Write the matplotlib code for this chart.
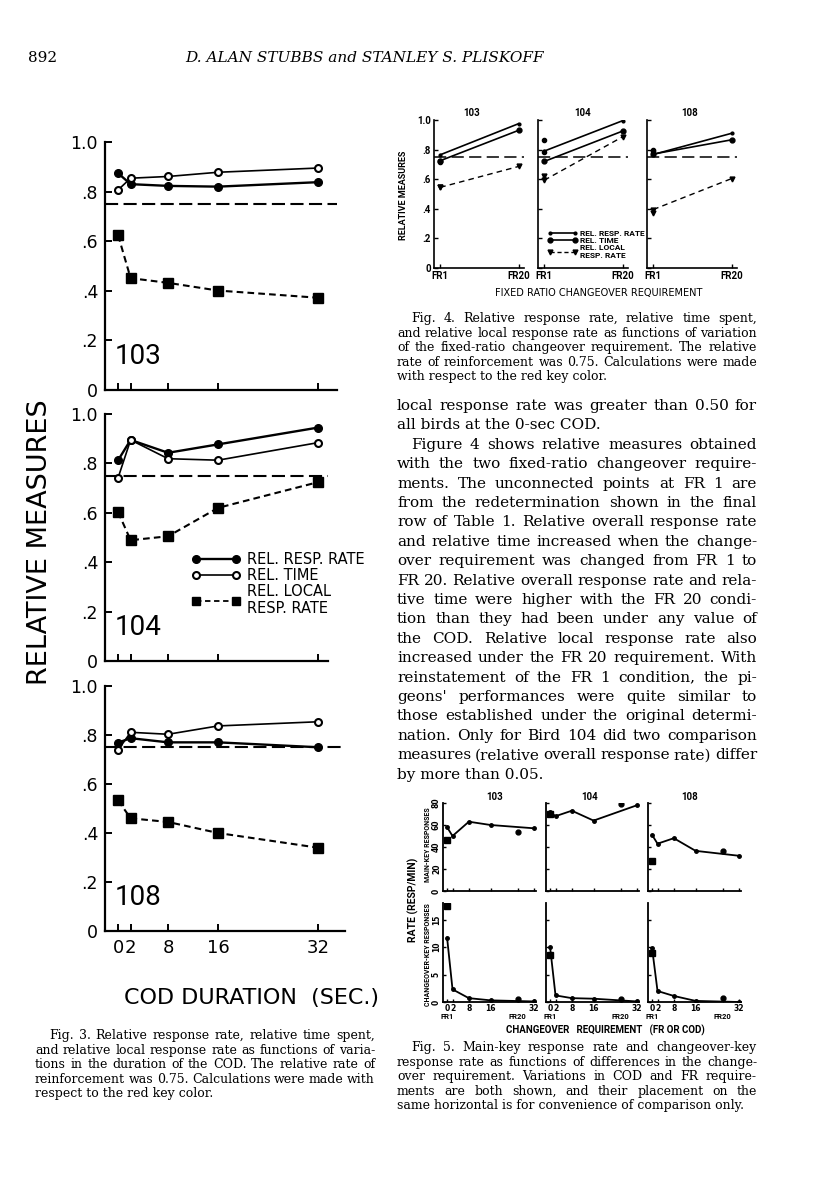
import matplotlib
matplotlib.use('Agg')
import matplotlib.pyplot as plt
from matplotlib.lines import Line2D
from matplotlib import font_manager

# ---- data ----
birds = ['103', '104', '108']
cod_sec = [0, 2, 8, 16, 32]
ref_rate = 0.75

# Fig. 3 : relative measures vs COD duration
f3_rate = [[0.874, 0.83, 0.823, 0.82, 0.838],
           [0.813, 0.895, 0.843, 0.877, 0.945],
           [0.769, 0.787, 0.77, 0.77, 0.75]]
f3_time = [[0.807, 0.854, 0.861, 0.878, 0.895],
           [0.742, 0.895, 0.819, 0.813, 0.884],
           [0.739, 0.811, 0.803, 0.837, 0.854]]
f3_local = [[0.624, 0.451, 0.432, 0.401, 0.372],
            [0.603, 0.489, 0.505, 0.62, 0.724],
            [0.533, 0.46, 0.445, 0.40, 0.34]]
f3_yticks = [0, 0.2, 0.4, 0.6, 0.8, 1.0]
f3_ylabels = ['0', '.2', '.4', '.6', '.8', '1.0']

# Fig. 4 : FR1 vs FR20
fr_pos = [0, 1]
fr_labels = ['FR1', 'FR20']
f4_rate = [[0.765, 0.975], [0.79, 0.995], [0.767, 0.91]]
f4_time = [[0.725, 0.93], [0.72, 0.925], [0.77, 0.866]]
f4_local = [[0.545, 0.686], [0.593, 0.886], [0.395, 0.604]]
f4_redo_rate = [0.715, 0.865, 0.80]
f4_redo_time = [0.72, 0.785, 0.79]
f4_redo_local = [0.55, 0.62, 0.375]

# Fig. 5 : response rates (resp/min)
f5_fr_x = [0, 26]
f5_main = [[58, 50, 63, 60, 57], [72, 68, 73, 64, 78], [51, 43, 48, 36.5, 32]]
f5_main_fr = [[46, 54], [70, 79], [27, 36]]
f5_co = [[11.7, 2.3, 0.7, 0.3, 0.1], [10, 1.2, 0.7, 0.6, 0.1], [9.8, 2.0, 1.1, 0.2, 0.0]]
f5_co_fr = [[17.5, 0.5], [8.5, 0.6], [9.0, 0.8]]

body = ["local response rate was greater than 0.50 for",
        "all birds at the 0-sec COD.",
        "Figure 4 shows relative measures obtained",
        "with the two fixed-ratio changeover require-",
        "ments. The unconnected points at FR 1 are",
        "from the redetermination shown in the final",
        "row of Table 1. Relative overall response rate",
        "and relative time increased when the change-",
        "over requirement was changed from FR 1 to",
        "FR 20. Relative overall response rate and rela-",
        "tive time were higher with the FR 20 condi-",
        "tion than they had been under any value of",
        "the COD. Relative local response rate also",
        "increased under the FR 20 requirement. With",
        "reinstatement of the FR 1 condition, the pi-",
        "geons' performances were quite similar to",
        "those established under the original determi-",
        "nation. Only for Bird 104 did two comparison",
        "measures (relative overall response rate) differ",
        "by more than 0.05."]
cap3 = ["Fig. 3. Relative response rate, relative time spent,",
        "and relative local response rate as functions of varia-",
        "tions in the duration of the COD. The relative rate of",
        "reinforcement was 0.75. Calculations were made with",
        "respect to the red key color."]
cap4 = ["Fig. 4. Relative response rate, relative time spent,",
        "and relative local response rate as functions of variation",
        "of the fixed-ratio changeover requirement. The relative",
        "rate of reinforcement was 0.75. Calculations were made",
        "with respect to the red key color."]
cap5 = ["Fig. 5. Main-key response rate and changeover-key",
        "response rate as functions of differences in the change-",
        "over requirement. Variations in COD and FR require-",
        "ments are both shown, and their placement on the",
        "same horizontal is for convenience of comparison only."]

# ---- page setup ----
W, H = 816, 1200
fig = plt.figure(figsize=(W / 100, H / 100), dpi=100)
fig.patch.set_facecolor('white')

names = {f.name for f in font_manager.fontManager.ttflist}
NARROW = 'Liberation Sans Narrow' if 'Liberation Sans Narrow' in names else 'Roboto'
SANS = 'DejaVu Sans'
SERIF = 'DejaVu Serif'


def rect(l, t, r, b):
    return [l / W, 1 - b / H, (r - l) / W, (b - t) / H]


def ftext(x, y, s, **kw):
    return fig.text(x / W, 1 - y / H, s, **kw)


def clean(ax, lw=1.5):
    ax.spines[['top', 'right']].set_visible(False)
    for s in ['left', 'bottom']:
        ax.spines[s].set_linewidth(lw)
    ax.patch.set_alpha(0)


# ---- Fig. 3 (left column) ----
f3_box = [(142, 390, 337), (414, 661, 328), (686, 931, 345)]
for i, (top, bot, right) in enumerate(f3_box):
    ax = fig.add_axes(rect(105, top, right, bot))
    ax.set_xlim(-2.1, (right - 118) / 6.25)
    ax.set_ylim(0, 1.0)
    clean(ax, 1.6)
    ax.axhline(ref_rate, color='k', lw=1.5, ls=(0, (6.3, 2.6)))
    ax.plot(cod_sec, f3_rate[i], color='k', lw=1.7, marker='o', ms=5.5)
    ax.plot(cod_sec, f3_time[i], color='k', lw=1.2, marker='o', ms=5,
            mfc='white', mew=1.5)
    ax.plot(cod_sec, f3_local[i], color='k', lw=1.5, ls=(0, (3.2, 2)),
            marker='s', ms=6.5)
    ax.set_yticks(f3_yticks)
    ax.set_yticklabels(f3_ylabels)
    ax.set_xticks(cod_sec)
    if i < 2:
        ax.set_xticklabels([])
    ax.tick_params(direction='in', length=5, width=1.4, labelsize=12.5, pad=5)
    ax.tick_params(axis='x', labelsize=13, pad=6)
    ax.text(-0.6, 0.135, birds[i], fontsize=20, family=[NARROW, SANS],
            va='center', ha='left')
    if i == 1:
        hs = [Line2D([], [], color='k', lw=1.7, marker='o', ms=5.5),
              Line2D([], [], color='k', lw=1.2, marker='o', ms=5, mfc='white', mew=1.5),
              Line2D([], [], color='k', lw=1.3, ls=(0, (3, 2)), marker='s', ms=6)]
        ax.legend(hs, ['REL. RESP. RATE', 'REL. TIME', 'REL. LOCAL\nRESP. RATE'],
                  numpoints=2, frameon=False, loc='upper left',
                  bbox_to_anchor=(0.39, 0.44), borderaxespad=0, borderpad=0,
                  handlelength=3.3, handletextpad=0.45, labelspacing=0.05,
                  prop={'family': SANS, 'size': 10.5})

ftext(40, 542, 'RELATIVE MEASURES', rotation=90, fontsize=19.5, family=SANS,
      ha='center', va='center')
ftext(252, 998, 'COD DURATION  (SEC.)', fontsize=16, family=SANS,
      ha='center', va='center')

# ---- Fig. 4 (top right) ----
f4_left = [434, 538, 647]
f4_title = [(472, 113), (583, 113), (690, 113)]
for i, left in enumerate(f4_left):
    ax = fig.add_axes(rect(left, 120, left + 90, 268))
    ax.set_xlim(-0.08, 1.07)
    ax.set_ylim(0, 1.0)
    clean(ax, 1.2)
    ax.axhline(ref_rate, color='k', lw=1.1, ls=(0, (8, 3.5)))
    ax.plot(fr_pos, f4_rate[i], color='k', lw=1.2, marker='o', ms=2)
    ax.plot(fr_pos, f4_time[i], color='k', lw=1.2, marker='o', ms=3.5)
    ax.plot(fr_pos, f4_local[i], color='k', lw=1.0, ls=(0, (4, 3)),
            marker='v', ms=3.5)
    ax.plot([fr_pos[0]] * 2, [f4_redo_rate[i], f4_redo_time[i]], 'o',
            color='k', ms=3)
    ax.plot(fr_pos[0], f4_redo_local[i], 'v', color='k', ms=3.5)
    ax.set_yticks(f3_yticks)
    ax.set_yticklabels(f3_ylabels if i == 0 else [])
    ax.set_xticks(fr_pos)
    ax.set_xticklabels(fr_labels)
    ax.tick_params(direction='in', length=3, width=1, labelsize=7, pad=2)
    for lab in ax.get_xticklabels() + ax.get_yticklabels():
        lab.set_fontweight('bold')
        lab.set_family([NARROW, SANS])
    ftext(*f4_title[i], birds[i], fontsize=7, fontweight='bold',
          family=[NARROW, SANS], ha='center', va='center')
    if i == 1:
        hs = [Line2D([], [], color='k', lw=1.2, marker='o', ms=2),
              Line2D([], [], color='k', lw=1.2, marker='o', ms=3.5),
              Line2D([], [], color='k', lw=1.0, ls=(0, (3, 2)), marker='v', ms=3.5)]
        ax.legend(hs, ['REL. RESP. RATE', 'REL. TIME', 'REL. LOCAL\nRESP. RATE'],
                  numpoints=2, frameon=False, loc='upper left',
                  bbox_to_anchor=(0.1, 0.255), borderaxespad=0, borderpad=0,
                  handlelength=3.6, handletextpad=0.3, labelspacing=0.0,
                  prop={'family': [NARROW, SANS], 'size': 6, 'weight': 'bold'})

ftext(404, 195, 'RELATIVE MEASURES', rotation=90, fontsize=6.5, fontweight='bold',
      family=[NARROW, SANS], ha='center', va='center')
ftext(599, 293, 'FIXED RATIO CHANGEOVER REQUIREMENT', fontsize=7,
      family=SANS, ha='center', va='center')

# ---- Fig. 5 (bottom right) ----
f5_left = [443, 546, 648]
f5_title = [(495, 797), (590, 797), (690, 797)]
for i, left in enumerate(f5_left):
    ax = fig.add_axes(rect(left, 803, left + 93, 891))
    ax.set_xlim(-1.5, 32.7)
    ax.set_ylim(0, 80)
    clean(ax, 1.3)
    ax.plot(cod_sec, f5_main[i], color='k', lw=1.3, marker='o', ms=2.5)
    ax.plot(f5_fr_x[0], f5_main_fr[i][0], 's', color='k', ms=5)
    ax.plot(f5_fr_x[1], f5_main_fr[i][1], 'o', color='k', ms=3.5)
    ax.set_yticks([0, 20, 40, 60, 80])
    ax.set_xticks(cod_sec + [f5_fr_x[1]])
    ax.set_xticklabels([])
    if i > 0:
        ax.set_yticklabels([])
    ax.tick_params(direction='in', length=2.5, width=1, labelsize=5.5, pad=1.5)
    for lab in ax.get_yticklabels():
        lab.set_rotation(90)
        lab.set_fontweight('bold')
        lab.set_va('center')
    ftext(*f5_title[i], birds[i], fontsize=7, fontweight='bold',
          family=[NARROW, SANS], ha='center', va='center')

    ax2 = fig.add_axes(rect(left, 903, left + 93, 1002))
    ax2.set_xlim(-1.5, 32.7)
    ax2.set_ylim(0, 18)
    clean(ax2, 1.3)
    ax2.plot(cod_sec, f5_co[i], color='k', lw=1.3, marker='o', ms=2.5)
    ax2.plot(f5_fr_x[0], f5_co_fr[i][0], 's', color='k', ms=5)
    ax2.plot(f5_fr_x[1], f5_co_fr[i][1], 'o', color='k', ms=3.5)
    ax2.set_yticks([0, 5, 10, 15])
    ax2.set_xticks(cod_sec + [f5_fr_x[1]])
    ax2.set_xticklabels(['0', '2', '8', '16', '32', ''])
    if i > 0:
        ax2.set_yticklabels([])
    ax2.tick_params(direction='in', length=2.5, width=1, labelsize=5.5, pad=1.5)
    for lab in ax2.get_yticklabels():
        lab.set_rotation(90)
        lab.set_va('center')
    for lab in ax2.get_yticklabels() + ax2.get_xticklabels():
        lab.set_fontweight('bold')
    for xv, s in zip(f5_fr_x, fr_labels):
        ax2.text(xv, -0.15, s, transform=ax2.get_xaxis_transform(), fontsize=5.5,
                 fontweight='bold', ha='center', va='center', family=[NARROW, SANS])

ftext(413, 900, 'RATE (RESP/MIN)', rotation=90, fontsize=7.5, fontweight='bold',
      family=[NARROW, SANS], ha='center', va='center')
ftext(428, 845, 'MAIN-KEY RESPONSES', rotation=90, fontsize=5, fontweight='bold',
      family=[NARROW, SANS], ha='center', va='center')
ftext(428, 955, 'CHANGEOVER-KEY RESPONSES', rotation=90, fontsize=5, fontweight='bold',
      family=[NARROW, SANS], ha='center', va='center')
ftext(605, 1030, 'CHANGEOVER   REQUIREMENT   (FR OR COD)', fontsize=7,
      fontweight='bold', family=[NARROW, SANS], ha='center', va='center')

# ---- running head and text ----
ftext(28, 62, '892', fontsize=11, family=SERIF, va='baseline')
ftext(365, 62, 'D. ALAN STUBBS and STANLEY S. PLISKOFF', fontsize=11,
      family=SERIF, style='italic', ha='center', va='baseline')

renderer = fig.canvas.get_renderer()


def put_lines(lines, x0, x1, y0, dy, size, indent=(), ragged=()):
    # justified lines, like the printed column
    for k, line in enumerate(lines):
        y = y0 + k * dy
        start = x0 + (14 if k in indent else 0)
        words = line.split()
        if k in ragged or len(words) < 2:
            ftext(start, y, line, fontsize=size, family=SERIF, va='baseline')
            continue
        objs = [ftext(start, y, w, fontsize=size, family=SERIF, va='baseline')
                for w in words]
        widths = [o.get_window_extent(renderer).width for o in objs]
        gap = max((x1 - start - sum(widths)) / (len(words) - 1), 2.5)
        x = start
        for o, wd in zip(objs, widths):
            o.set_x(x / W)
            x += wd + gap


put_lines(body, 397, 757, 410, 19.4, 11.0, indent=(2,), ragged=(1, 19))
put_lines(cap4, 397, 757, 322, 14.6, 9.0, indent=(0,), ragged=(4,))
put_lines(cap3, 35, 375, 1039, 14.6, 9.0, indent=(0,), ragged=(4,))
put_lines(cap5, 397, 757, 1051, 14.6, 9.0, indent=(0,), ragged=(4,))

fig.savefig('out.png', dpi=100)
